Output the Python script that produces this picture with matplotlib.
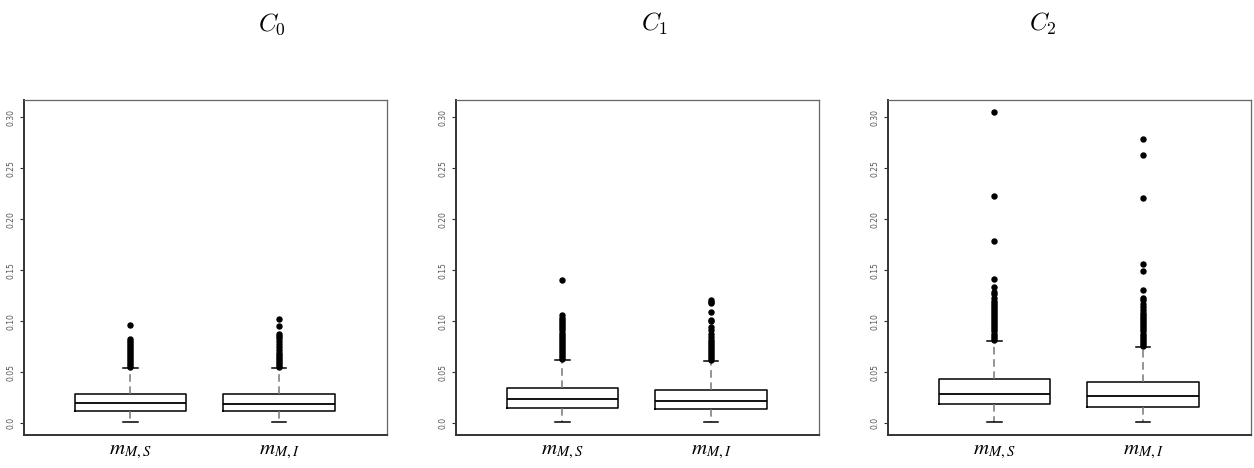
import matplotlib
matplotlib.use("Agg")
import matplotlib.pyplot as plt

# panel titles and group names
titles = [r"$C_0$", r"$C_1$", r"$C_2$"]
groups = [r"$m_{M,S}$", r"$m_{M,I}$"]

# box statistics: [m_MS, m_MI] per panel
q1 = [[0.0124, 0.0118], [0.0154, 0.0137], [0.0193, 0.0163]]
med = [[0.0199, 0.0186], [0.0235, 0.0216], [0.0291, 0.0271]]
q3 = [[0.0291, 0.0284], [0.0343, 0.0327], [0.0438, 0.0402]]
whislo = [[0.0010, 0.0013], [0.0013, 0.0013], [0.0016, 0.0016]]
whishi = [[0.0539, 0.0539], [0.0624, 0.0611], [0.0807, 0.0752]]

# outliers (dense runs listed point by point)
fl_c0_ms = [0.055, 0.057, 0.059, 0.061, 0.063, 0.065, 0.067, 0.069, 0.071,
            0.073, 0.075, 0.077, 0.079, 0.081, 0.0827, 0.0964]
fl_c0_mi = [0.055, 0.057, 0.059, 0.061, 0.063, 0.065, 0.067, 0.0686, 0.072,
            0.075, 0.078, 0.081, 0.084, 0.086, 0.088, 0.0954, 0.1023]
fl_c1_ms = [0.063, 0.065, 0.067, 0.069, 0.071, 0.073, 0.075, 0.077, 0.079,
            0.081, 0.083, 0.085, 0.087, 0.089, 0.091, 0.093, 0.095, 0.097,
            0.099, 0.101, 0.103, 0.1059, 0.1405]
fl_c1_mi = [0.062, 0.064, 0.066, 0.068, 0.070, 0.072, 0.074, 0.076, 0.078,
            0.080, 0.082, 0.085, 0.088, 0.0915, 0.094, 0.1003, 0.101, 0.1095,
            0.1176, 0.1193, 0.121]
fl_c2_ms = [0.082, 0.084, 0.086, 0.088, 0.090, 0.092, 0.094, 0.096, 0.098,
            0.100, 0.102, 0.104, 0.106, 0.108, 0.110, 0.112, 0.114, 0.116,
            0.118, 0.120, 0.1225, 0.1268, 0.1284, 0.1333, 0.1415, 0.1788,
            0.2232, 0.3052]
fl_c2_mi = [0.076, 0.078, 0.080, 0.082, 0.084, 0.086, 0.088, 0.090, 0.092,
            0.094, 0.096, 0.098, 0.100, 0.102, 0.104, 0.106, 0.108, 0.111,
            0.114, 0.117, 0.1205, 0.123, 0.1304, 0.1493, 0.1559, 0.2213,
            0.263, 0.2784]
fliers = [[fl_c0_ms, fl_c0_mi], [fl_c1_ms, fl_c1_mi], [fl_c2_ms, fl_c2_mi]]

yticks = [0.0, 0.05, 0.10, 0.15, 0.20, 0.25, 0.30]
ytick_labels = ["0.0", "0.05", "0.10", "0.15", "0.20", "0.25", "0.30"]

fig = plt.figure(figsize=(12.54, 4.68), dpi=100)

lefts = [24/1254, 456/1254, 888/1254]
title_x = [272/1254, 655/1254, 1043/1254]

for k in range(3):
    ax = fig.add_axes([lefts[k], 1-435/468, 363/1254, 335/468])
    stats = []
    for j in range(2):
        stats.append(dict(q1=q1[k][j], med=med[k][j], q3=q3[k][j],
                          whislo=whislo[k][j], whishi=whishi[k][j],
                          fliers=fliers[k][j]))
    ax.bxp(stats, positions=[1, 2], widths=0.75, capwidths=0.095,
           boxprops=dict(color="black", linewidth=1.1),
           medianprops=dict(color="black", linewidth=1.3),
           whiskerprops=dict(color="#777777", linewidth=1.1, linestyle=(0, (5, 3))),
           capprops=dict(color="black", linewidth=1.1),
           flierprops=dict(marker="o", markerfacecolor="black",
                           markeredgecolor="black", markersize=3.6))
    ax.set_xlim(0.283, 2.727)
    ax.set_ylim(-0.0115, 0.317)
    ax.set_yticks(yticks)
    ax.set_yticklabels(ytick_labels, rotation=90, va="center",
                       fontsize=5.5, color="#555555")
    ax.tick_params(axis="y", length=3, width=0.8, pad=3, color="#333333")
    ax.set_xticks([1, 2])
    ax.set_xticklabels(groups, fontsize=15, math_fontfamily="stix")
    ax.tick_params(axis="x", length=0, pad=4)
    for s in ["left", "bottom"]:
        ax.spines[s].set_color("#333333")
        ax.spines[s].set_linewidth(1.4)
    for s in ["top", "right"]:
        ax.spines[s].set_color("#666666")
        ax.spines[s].set_linewidth(0.9)
    fig.text(title_x[k], 1-24/468, titles[k], ha="center", va="center",
             fontsize=18, math_fontfamily="cm")

fig.savefig("out.png", dpi=100)
